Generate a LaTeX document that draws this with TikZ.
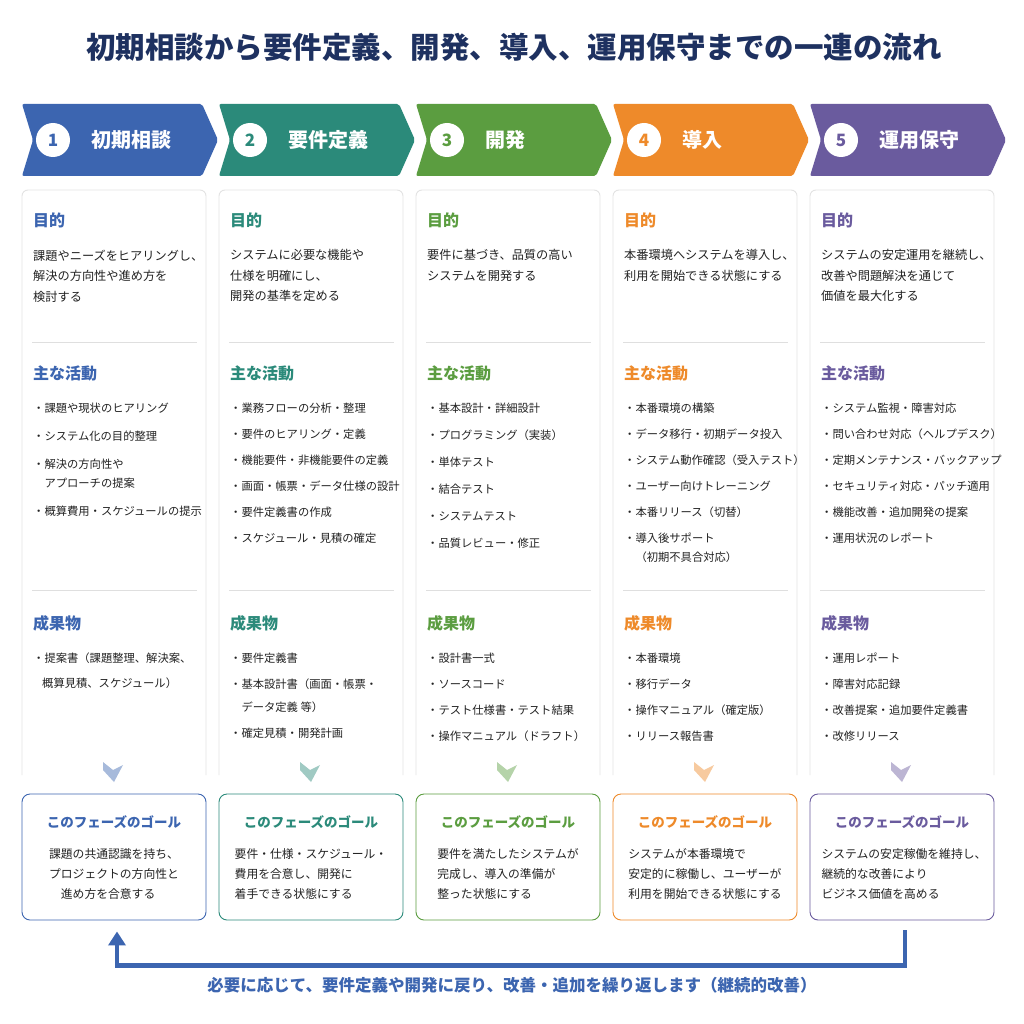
\documentclass[tikz,border=0pt]{standalone}
\usepackage{fontspec}
\setmainfont{Noto Sans CJK JP}
\usetikzlibrary{arrows.meta}
\definecolor{titleblue}{HTML}{1E3160}
\definecolor{pblue}{HTML}{3C65B0}
\definecolor{pteal}{HTML}{2B8A7A}
\definecolor{pgreen}{HTML}{5B9D40}
\definecolor{porange}{HTML}{EE8A2A}
\definecolor{ppurple}{HTML}{6A5B9E}
\definecolor{inktxt}{HTML}{222222}

\begin{document}
\begin{tikzpicture}[x=1pt,y=-1pt,every node/.style={inner sep=0pt},
  phasebox/.style={fill=#1,rounded corners=2pt},
  phasenum/.style={circle,fill=white,minimum size=34pt,text=#1,font=\fontsize{17}{17}\selectfont\bfseries},
  phaselabel/.style={anchor=west,text=white,font=\fontsize{20}{20}\selectfont\bfseries},
  cardline/.style={draw=gray!22,line width=0.9pt,rounded corners=6pt},
  headtxt/.style={anchor=west,text=#1,font=\fontsize{16}{16}\selectfont\bfseries},
  bodytxt/.style={anchor=north west,align=left,text=inktxt,font=\fontsize{12.2}{20.5}\selectfont},
  itemtxt/.style={anchor=north west,align=left,text=inktxt,font=\fontsize{11.3}{19}\selectfont},
  divider/.style={draw=gray!25,line width=0.7pt},
  downmark/.style={fill=#1!45},
  goalbox/.style={draw=#1,line width=0.9pt,rounded corners=8pt,minimum width=184pt,minimum height=126pt},
  goalhead/.style={text=#1,font=\fontsize{13.5}{13.5}\selectfont\bfseries},
  goaltxt/.style={align=left,text=inktxt,font=\fontsize{11.8}{20}\selectfont},
  backarrow/.style={draw=pblue,line width=4.5pt,-{Triangle[width=17pt,length=14pt]}}]
\fill[white] (0,0) rectangle (1024,1024);
\useasboundingbox (0,0) rectangle (1024,1024);

\node[text=titleblue,font=\fontsize{29.5}{29.5}\selectfont\bfseries] (title) at (514,47) {初期相談から要件定義、開発、導入、運用保守までの一連の流れ};

% 1 初期相談
\begin{scope}[xshift=22pt]
\fill[phasebox=pblue] (0,104) -- (180,104) -- (196,140) -- (180,176) -- (0,176) -- (11,140) -- cycle;
\node[phasenum=pblue] (n1) at (31,140) {1};
\node[phaselabel] (p1) at (69,140) {初期相談};
\draw[cardline] (0,775) -- (0,190) -- (184,190) -- (184,775);
\node[headtxt=pblue] (g1) at (11,220) {目的};
\node[bodytxt] (b1) at (11,249.5) {課題やニーズをヒアリングし、\\解決の方向性や進め方を\\検討する};
\draw[divider] (10,342) -- (175,342);
\node[headtxt=pblue] (k1) at (11,373) {主な活動};
\node[itemtxt] (a1) at (11,403) {・課題や現状のヒアリング\\[9pt]・システム化の目的整理\\[9pt]・解決の方向性や\\\hspace*{1em}アプローチの提案\\[9pt]・概算費用・スケジュールの提示};
\draw[divider] (10,590) -- (175,590);
\node[headtxt=pblue] (r1) at (11,623) {成果物};
\node[itemtxt] (d1) at (11,653) {・提案書（課題整理、解決案、\\[6pt]\hspace*{0.8em}概算見積、スケジュール）};
\fill[downmark=pblue] (81,762) -- (91,770) -- (101,765) -- (92,782) -- (81,770) -- cycle;
\node[goalbox=pblue] (goal1) at (92,857) {};
\node[goalhead=pblue] (q1) at (92,822) {このフェーズのゴール};
\node[goaltxt] (z1) at (92,874) {課題の共通認識を持ち、\\プロジェクトの方向性と\\\hspace*{1em}進め方を合意する};
\end{scope}

% 2 要件定義
\begin{scope}[xshift=219pt]
\fill[phasebox=pteal] (0,104) -- (180,104) -- (196,140) -- (180,176) -- (0,176) -- (11,140) -- cycle;
\node[phasenum=pteal] (n2) at (31,140) {2};
\node[phaselabel] (p2) at (69,140) {要件定義};
\draw[cardline] (0,775) -- (0,190) -- (184,190) -- (184,775);
\node[headtxt=pteal] (g2) at (11,220) {目的};
\node[bodytxt] (b2) at (11,249.5) {システムに必要な機能や\\仕様を明確にし、\\開発の基準を定める};
\draw[divider] (10,342) -- (175,342);
\node[headtxt=pteal] (k2) at (11,373) {主な活動};
\node[itemtxt] (a2) at (11,403) {・業務フローの分析・整理\\[7pt]・要件のヒアリング・定義\\[7pt]・機能要件・非機能要件の定義\\[7pt]・画面・帳票・データ仕様の設計\\[7pt]・要件定義書の作成\\[7pt]・スケジュール・見積の確定};
\draw[divider] (10,590) -- (175,590);
\node[headtxt=pteal] (r2) at (11,623) {成果物};
\node[itemtxt] (d2) at (11,653) {・要件定義書\\[7pt]・基本設計書（画面・帳票・\\[4pt]\hspace*{1em}データ定義 等）\\[7pt]・確定見積・開発計画};
\fill[downmark=pteal] (81,762) -- (91,770) -- (101,765) -- (92,782) -- (81,770) -- cycle;
\node[goalbox=pteal] (goal2) at (92,857) {};
\node[goalhead=pteal] (q2) at (92,822) {このフェーズのゴール};
\node[goaltxt] (z2) at (92,874) {要件・仕様・スケジュール・\\費用を合意し、開発に\\着手できる状態にする};
\end{scope}

% 3 開発
\begin{scope}[xshift=416pt]
\fill[phasebox=pgreen] (0,104) -- (180,104) -- (196,140) -- (180,176) -- (0,176) -- (11,140) -- cycle;
\node[phasenum=pgreen] (n3) at (31,140) {3};
\node[phaselabel] (p3) at (69,140) {開発};
\draw[cardline] (0,775) -- (0,190) -- (184,190) -- (184,775);
\node[headtxt=pgreen] (g3) at (11,220) {目的};
\node[bodytxt] (b3) at (11,249.5) {要件に基づき、品質の高い\\システムを開発する};
\draw[divider] (10,342) -- (175,342);
\node[headtxt=pgreen] (k3) at (11,373) {主な活動};
\node[itemtxt] (a3) at (11,403) {・基本設計・詳細設計\\[8pt]・プログラミング（実装）\\[8pt]・単体テスト\\[8pt]・結合テスト\\[8pt]・システムテスト\\[8pt]・品質レビュー・修正};
\draw[divider] (10,590) -- (175,590);
\node[headtxt=pgreen] (r3) at (11,623) {成果物};
\node[itemtxt] (d3) at (11,653) {・設計書一式\\[7pt]・ソースコード\\[7pt]・テスト仕様書・テスト結果\\[7pt]・操作マニュアル（ドラフト）};
\fill[downmark=pgreen] (81,762) -- (91,770) -- (101,765) -- (92,782) -- (81,770) -- cycle;
\node[goalbox=pgreen] (goal3) at (92,857) {};
\node[goalhead=pgreen] (q3) at (92,822) {このフェーズのゴール};
\node[goaltxt] (z3) at (92,874) {要件を満たしたシステムが\\完成し、導入の準備が\\整った状態にする};
\end{scope}

% 4 導入
\begin{scope}[xshift=613pt]
\fill[phasebox=porange] (0,104) -- (180,104) -- (196,140) -- (180,176) -- (0,176) -- (11,140) -- cycle;
\node[phasenum=porange] (n4) at (31,140) {4};
\node[phaselabel] (p4) at (69,140) {導入};
\draw[cardline] (0,775) -- (0,190) -- (184,190) -- (184,775);
\node[headtxt=porange] (g4) at (11,220) {目的};
\node[bodytxt] (b4) at (11,249.5) {本番環境へシステムを導入し、\\利用を開始できる状態にする};
\draw[divider] (10,342) -- (175,342);
\node[headtxt=porange] (k4) at (11,373) {主な活動};
\node[itemtxt] (a4) at (11,403) {・本番環境の構築\\[7pt]・データ移行・初期データ投入\\[7pt]・システム動作確認（受入テスト）\\[7pt]・ユーザー向けトレーニング\\[7pt]・本番リリース（切替）\\[7pt]・導入後サポート\\\hspace*{1em}（初期不具合対応）};
\draw[divider] (10,590) -- (175,590);
\node[headtxt=porange] (r4) at (11,623) {成果物};
\node[itemtxt] (d4) at (11,653) {・本番環境\\[7pt]・移行データ\\[7pt]・操作マニュアル（確定版）\\[7pt]・リリース報告書};
\fill[downmark=porange] (81,762) -- (91,770) -- (101,765) -- (92,782) -- (81,770) -- cycle;
\node[goalbox=porange] (goal4) at (92,857) {};
\node[goalhead=porange] (q4) at (92,822) {このフェーズのゴール};
\node[goaltxt] (z4) at (92,874) {システムが本番環境で\\安定的に稼働し、ユーザーが\\利用を開始できる状態にする};
\end{scope}

% 5 運用保守
\begin{scope}[xshift=810pt]
\fill[phasebox=ppurple] (0,104) -- (180,104) -- (196,140) -- (180,176) -- (0,176) -- (11,140) -- cycle;
\node[phasenum=ppurple] (n5) at (31,140) {5};
\node[phaselabel] (p5) at (69,140) {運用保守};
\draw[cardline] (0,775) -- (0,190) -- (184,190) -- (184,775);
\node[headtxt=ppurple] (g5) at (11,220) {目的};
\node[bodytxt] (b5) at (11,249.5) {システムの安定運用を継続し、\\改善や問題解決を通じて\\価値を最大化する};
\draw[divider] (10,342) -- (175,342);
\node[headtxt=ppurple] (k5) at (11,373) {主な活動};
\node[itemtxt] (a5) at (11,403) {・システム監視・障害対応\\[7pt]・問い合わせ対応（ヘルプデスク）\\[7pt]・定期メンテナンス・バックアップ\\[7pt]・セキュリティ対応・パッチ適用\\[7pt]・機能改善・追加開発の提案\\[7pt]・運用状況のレポート};
\draw[divider] (10,590) -- (175,590);
\node[headtxt=ppurple] (r5) at (11,623) {成果物};
\node[itemtxt] (d5) at (11,653) {・運用レポート\\[7pt]・障害対応記録\\[7pt]・改善提案・追加要件定義書\\[7pt]・改修リリース};
\fill[downmark=ppurple] (81,762) -- (91,770) -- (101,765) -- (92,782) -- (81,770) -- cycle;
\node[goalbox=ppurple] (goal5) at (92,857) {};
\node[goalhead=ppurple] (q5) at (92,822) {このフェーズのゴール};
\node[goaltxt] (z5) at (94,874) {システムの安定稼働を維持し、\\継続的な改善により\\ビジネス価値を高める};
\end{scope}

% loop back
\draw[backarrow] ([xshift=3pt,yshift=-10pt]goal5.south) -- ++(0,35) -| ([xshift=3pt,yshift=-11pt]goal1.south);
\node[text=pblue,font=\fontsize{16.5}{16.5}\selectfont\bfseries] (note) at (512,985) {必要に応じて、要件定義や開発に戻り、改善・追加を繰り返します（継続的改善）};
\end{tikzpicture}
\end{document}
